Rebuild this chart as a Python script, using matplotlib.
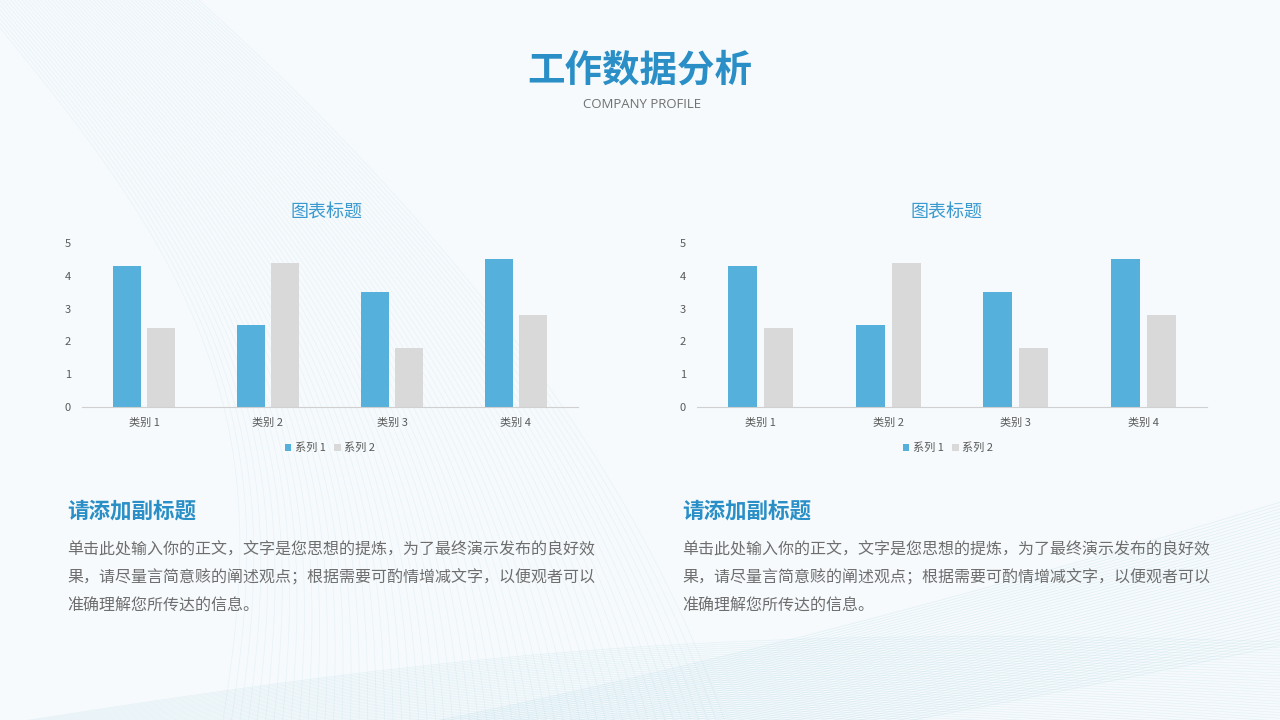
import numpy as np
import matplotlib.pyplot as plt

plt.rcParams["font.family"] = ["Noto Sans CJK SC", "DejaVu Sans"]

categories = ["类别 1", "类别 2", "类别 3", "类别 4"]
series_names = ["系列 1", "系列 2"]
series1 = [4.3, 2.5, 3.5, 4.5]
series2 = [2.4, 4.4, 1.8, 2.8]
y_ticks = [0, 1, 2, 3, 4, 5]

BLUE = "#56B0DC"
GREY = "#D9D9D9"
TITLE_BLUE = "#2A8FC6"
TEXT_GREY = "#6E6E6E"

W, H = 1280, 720
fig = plt.figure(figsize=(12.8, 7.2), dpi=100)
fig.patch.set_facecolor("#F6FAFC")


def fx(px):
    return px / W


def fy(py):
    return 1 - py / H


# faint wavy lines in the background (decoration only)
bg = fig.add_axes([0, 0, 1, 1], zorder=-5)
bg.set_xlim(0, W)
bg.set_ylim(H, 0)
bg.axis("off")
t = np.linspace(0, 1, 200)
for i in range(60):
    k = i / 60
    xs = -40 + 520 * k + 260 * t + 120 * np.sin(np.pi * t) * (1 - k)
    ys = -20 + 760 * t
    bg.plot(xs - 300 * (1 - t) ** 2 * k, ys, color="#9CCFE0", lw=0.5, alpha=0.17)
xs = np.linspace(-40, W + 40, 300)
u = (xs + 40) / 1360
for i in range(45):
    k = i / 45
    bg.plot(xs, 790 + 60 * k - 300 * u ** 1.4 * (1 - 0.3 * k),
            color="#9CCFE0", lw=0.5, alpha=0.25)
    bg.plot(xs, 770 - 40 * k - 40 * np.sin(u * np.pi) - 90 * u * k,
            color="#9CCFE0", lw=0.5, alpha=0.2)

# titles
fig.text(fx(640), fy(70), "工作数据分析", ha="center", va="center",
         fontsize=27, fontweight="bold", color=TITLE_BLUE)
fig.text(fx(642), fy(104), "COMPANY PROFILE", ha="center", va="center",
         fontsize=9.5, color="#707070", family=["Open Sans", "DejaVu Sans"])

panels = [
    {"left": 82, "right": 578, "title_x": 326, "legend_x": 330, "text_x": 67},
    {"left": 697, "right": 1207, "title_x": 946, "legend_x": 948, "text_x": 682},
]

body = ["单击此处输入你的正文，文字是您思想的提炼，为了最终演示发布的良好效",
        "果，请尽量言简意赅的阐述观点；根据需要可酌情增减文字，以便观者可以",
        "准确理解您所传达的信息。"]

x = np.arange(len(categories))
bw = 0.226
off = 0.141

for p in panels:
    ax = fig.add_axes([fx(p["left"]), fy(407), fx(p["right"] - p["left"]), 164 / H])
    ax.patch.set_alpha(0)
    b1 = ax.bar(x - off, series1, width=bw, color=BLUE, label=series_names[0])
    b2 = ax.bar(x + off, series2, width=bw, color=GREY, label=series_names[1])
    ax.set_xlim(-0.5, len(categories) - 0.5)
    ax.set_ylim(0, 5)
    ax.set_yticks(y_ticks)
    ax.set_xticks(x)
    ax.set_xticklabels(categories)
    for s in ["top", "right", "left"]:
        ax.spines[s].set_visible(False)
    ax.spines["bottom"].set_color("#D0D0D0")
    ax.tick_params(axis="both", length=0, labelsize=8, colors="#595959")
    ax.tick_params(axis="x", pad=8)
    ax.tick_params(axis="y", pad=8)

    fig.text(fx(p["title_x"]), fy(213), "图表标题", ha="center", va="center",
             fontsize=13, color="#3A9AD0")
    fig.legend(handles=[b1, b2], labels=series_names, loc="center",
               bbox_to_anchor=(fx(p["legend_x"]), fy(448)), ncol=2, frameon=False,
               fontsize=8, handlelength=0.6, handleheight=0.6, handletextpad=0.3,
               columnspacing=0.8, labelcolor="#595959")

    fig.text(fx(p["text_x"]), fy(511), "请添加副标题", ha="left", va="center",
             fontsize=15.5, fontweight="bold", color=TITLE_BLUE)
    for i, line in enumerate(body):
        fig.text(fx(p["text_x"]), fy(550 + 28 * i), line, ha="left", va="center",
                 fontsize=11.5, color=TEXT_GREY)

fig.savefig("out.png", dpi=100, facecolor=fig.get_facecolor())
